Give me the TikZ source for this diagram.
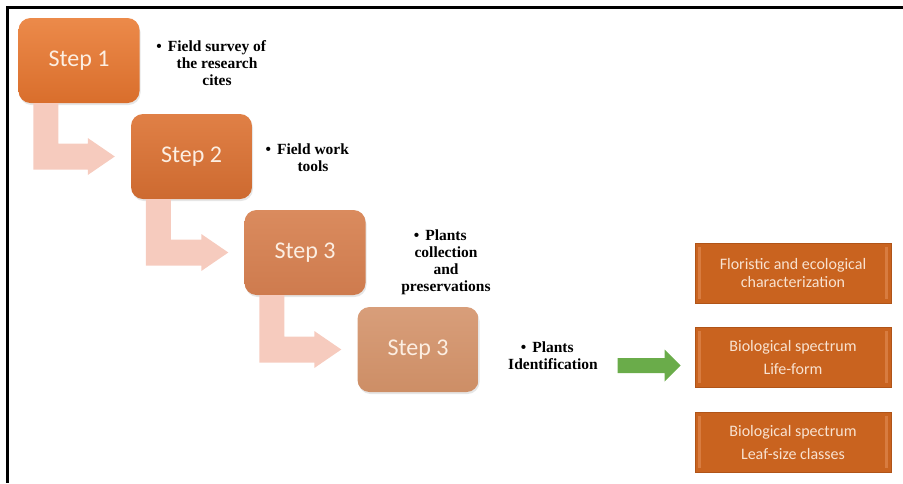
\documentclass[tikz,border=0pt]{standalone}
\usepackage{fontspec}
\setmainfont{Liberation Serif}
\newfontfamily\boxfont{Carlito}
\usetikzlibrary{calc,shadows}
\tikzset{
  bentarrow/.style 2 args={insert path={
    ($(#1.south west)+(15,0)$) |- ($(#2.west)+(-43,13)$)
    -- ($(#2.west)+(-43,18.5)$) -- ($(#2.west)+(-16,0)$)
    -- ($(#2.west)+(-43,-18.5)$) -- ($(#2.west)+(-43,-13)$)
    -| ($(#1.south west)+(40,0)$) -- cycle}}
}

\begin{document}
\begin{tikzpicture}[x=1pt,y=-1pt,
    stepbox/.style={rounded corners=12pt, minimum width=121pt, minimum height=85pt,
      inner sep=0pt, text=stepText, font=\boxfont\fontsize{24}{28}\selectfont,
      drop shadow={opacity=0.2, shadow xshift=1pt, shadow yshift=-2pt}},
    bullettext/.style={align=center, font=\bfseries\fontsize{15.5}{17}\selectfont},
    rightbox/.style={fill=rustBox, draw=rustEdge, line width=0.6pt,
      minimum width=196pt, minimum height=60pt, inner sep=0pt, align=center,
      text=boxText, font=\boxfont\fontsize{16}{18}\selectfont,
      path picture={
        \fill[rustLight] ($(path picture bounding box.north west)+(3,4)$) rectangle ($(path picture bounding box.south west)+(6,-4)$);
        \fill[rustLight] ($(path picture bounding box.north east)+(-3,4)$) rectangle ($(path picture bounding box.south east)+(-6,-4)$);}},
    bentfill/.style={fill=bentPink}]
  \definecolor{stepText}{RGB}{252, 238, 226}
  \definecolor{boxText}{RGB}{248, 226, 208}
  \definecolor{rustBox}{RGB}{201, 99, 31}
  \definecolor{rustEdge}{RGB}{176, 84, 24}
  \definecolor{rustLight}{RGB}{216, 124, 64}
  \definecolor{bentPink}{RGB}{246, 203, 190}
  \definecolor{greenArrow}{RGB}{106, 172, 74}

  \useasboundingbox (0,0) rectangle (903,483);
  \draw[line width=2.5pt] (903,7.5) -- (7.5,7.5) -- (7.5,483);

  \node[stepbox, top color={rgb,255:red,236;green,138;blue,74}, bottom color={rgb,255:red,217;green,110;blue,44}] (s1) at (79,60.5) {Step 1};
  \node[stepbox, top color={rgb,255:red,224;green,128;blue,70}, bottom color={rgb,255:red,205;green,106;blue,48}] (s2) at (191.5,156.5) {Step 2};
  \node[stepbox, top color={rgb,255:red,218;green,139;blue,94}, bottom color={rgb,255:red,206;green,123;blue,78}] (s3) at (305,252.5) {Step 3};
  \node[stepbox, top color={rgb,255:red,216;green,158;blue,122}, bottom color={rgb,255:red,205;green,142;blue,102}] (s4) at (418,349.5) {Step 3};

  \fill[bentfill, bentarrow={s1}{s2}];
  \fill[bentfill, bentarrow={s2}{s3}];
  \fill[bentfill, bentarrow={s3}{s4}];

  \node[bullettext] (t1) at (217,63) {\llap{\textbullet\hspace{6pt}}Field survey of\\the research\\cites};
  \node[bullettext] (t2) at (313,157.5) {\llap{\textbullet\hspace{6pt}}Field work\\tools};
  \node[bullettext] (t3) at (446,262) {\llap{\textbullet\hspace{6pt}}Plants\\collection\\and\\preservations};
  \node[bullettext] (t4) at (553,355.5) {\llap{\textbullet\hspace{6pt}}Plants\\Identification};

  \node[rightbox] (r1) at (793,273) {Floristic and ecological\\characterization};
  \node[rightbox] (r2) at (793,357) {Biological spectrum\\[5pt]Life-form};
  \node[rightbox] (r3) at (793,442) {Biological spectrum\\[5pt]Leaf-size classes};

  \fill[greenArrow] ($(r2.west)+(-77,1)$) -- ($(r2.west)+(-30,1)$) -- ($(r2.west)+(-30,-7.5)$)
    -- ($(r2.west)+(-14,8.5)$) -- ($(r2.west)+(-30,24.5)$) -- ($(r2.west)+(-30,16)$)
    -- ($(r2.west)+(-77,16)$) -- cycle;
\end{tikzpicture}
\end{document}
